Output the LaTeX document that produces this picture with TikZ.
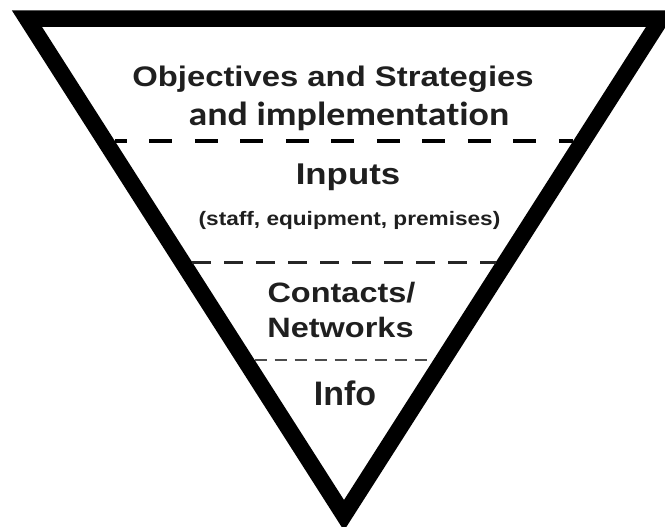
\documentclass[tikz,border=0pt]{standalone}
\usepackage{fontspec}
\setmainfont{Liberation Sans}
\newfontfamily\widesans[FakeStretch=1.16]{Liberation Sans}
\newfontfamily\calsans[FakeStretch=1.13,Ligatures=NoCommon]{Carlito}
\usetikzlibrary{calc}
\begin{document}
\begin{tikzpicture}[x=1pt,y=-1pt,
  lvl/.style={anchor=base,inner sep=0pt,text=black!88},
  big/.style={lvl,font=\widesans\bfseries\fontsize{28}{32}\selectfont}]
 \useasboundingbox (0,0) rectangle (665,527);
 \coordinate (TL) at (27,18.75);
 \coordinate (TR) at (661,18.75);
 \coordinate (BT) at (344,515.3);
 \draw[line width=16.5pt,line join=miter] (TL) -- (TR) -- (BT) -- cycle;
 \coordinate (IL) at (42,27);
 \coordinate (IR) at (646,27);
 \coordinate (IB) at (344,500);
 \draw[line width=3.5pt,dash pattern=on 23pt off 22.5pt,dash phase=11pt]
  ($(IL)!0.241!(IB)$) -- ($(IR)!0.241!(IB)$);
 \draw[line width=3pt,black!85,dash pattern=on 19pt off 13pt]
  ($(IL)!0.497!(IB)$) -- ($(IR)!0.497!(IB)$);
 \draw[line width=2.2pt,black!70,dash pattern=on 12pt off 8pt]
  ($(IL)!0.704!(IB)$) -- ($(IR)!0.704!(IB)$);
 \node[big,font=\widesans\bfseries\fontsize{28.3}{32}\selectfont] (obj) at (333,87) {Objectives and Strategies};
 \node[lvl,font=\calsans\bfseries\fontsize{33.5}{36}\selectfont] (impl) at (349,125) {and implementation};
 \node[big,font=\widesans\bfseries\fontsize{30}{34}\selectfont] (inp) at (348,184) {Inputs};
 \node[lvl,font=\widesans\bfseries\fontsize{19.5}{22}\selectfont] (res) at (349.5,225) {(staff, equipment, premises)};
 \node[big] (con) at (341.5,302) {Contacts/};
 \node[big] (net) at (340.5,337) {Networks};
 \node[lvl,font=\bfseries\fontsize{34}{38}\selectfont] (info) at (345,405) {Info};
\end{tikzpicture}
\end{document}
